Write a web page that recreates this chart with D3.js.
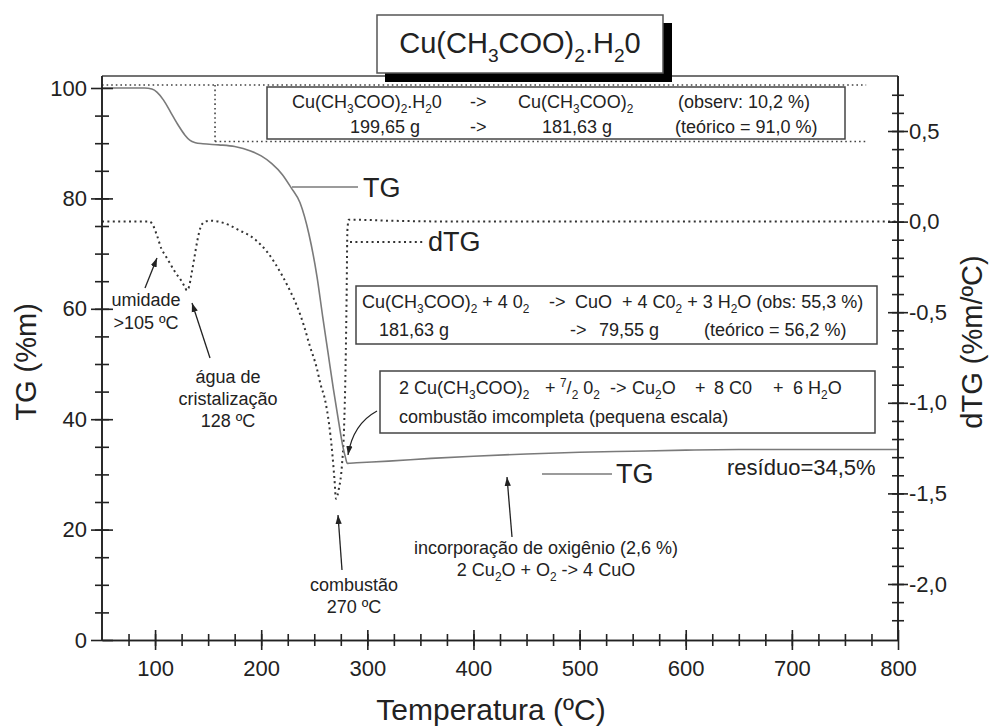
<!DOCTYPE html>
<html>
<head>
<meta charset="utf-8">
<script src="https://cdn.jsdelivr.net/npm/d3@7"></script>
<style>
body { margin: 0; background: #fff; }
text { font-family: "Liberation Sans", Arial, sans-serif; fill: #222; }
</style>
</head>
<body>
<svg id="chart" width="992" height="727"></svg>
<script>
/* TG / dTG do acetato de cobre monohidratado */

// temperatura (ºC) e massa (%) da curva TG
var tgTemp = [50, 90, 97, 102, 108, 115, 122, 128, 133, 138, 145, 160, 175, 190, 200, 210, 220, 228,
              236.6, 245, 252.6, 258, 263, 268, 273, 277, 279.5, 281, 290, 320, 360, 400, 450, 500,
              550, 600, 650, 700, 750, 800];
var tgMass = [100, 100, 99.8, 99.2, 97.8, 95.5, 93.2, 91.5, 90.5, 90.1, 89.9, 89.7, 89.4, 88.6, 87.7, 86.3, 84.3, 82.0,
              79.2, 73.5, 65.8, 58.5, 52, 45.5, 39.5, 35, 33, 32.0, 32.1, 32.4, 32.9, 33.3, 33.7, 34.0,
              34.2, 34.4, 34.5, 34.5, 34.5, 34.5];

// temperatura (ºC) e derivada (%m/ºC) da curva dTG
var dtgTemp = [50, 95, 98, 102, 106, 110, 114, 119, 124, 128, 130, 132, 134, 137, 140, 143, 147, 152, 160,
               170, 180, 190, 200, 206, 213, 220, 227, 234, 240, 246, 252, 256, 260, 264, 267, 269, 270.5,
               273, 276, 278, 279.5, 280.5, 281.2, 282.5, 290, 320, 400, 500, 600, 700, 800];
var dtgRate = [0, 0, -0.02, -0.08, -0.15, -0.19, -0.23, -0.28, -0.32, -0.36, -0.38, -0.36, -0.30, -0.20, -0.10, -0.03, 0, 0.005, 0,
               -0.02, -0.05, -0.08, -0.13, -0.17, -0.23, -0.30, -0.38, -0.47, -0.57, -0.69, -0.80, -0.90, -0.98, -1.12, -1.28, -1.42, -1.53,
               -1.48, -1.35, -1.15, -0.8, -0.4, -0.05, 0.01, 0.01, 0.005, 0, 0, 0, 0, 0];

// eixos
var tempTicks = [100, 200, 300, 400, 500, 600, 700, 800];
var tempMinor = d3.range(75, 800, 25);
var tgTicks = [0, 20, 40, 60, 80, 100];
var tgMinor = d3.range(5, 100, 5);
var dtgTicks = [0.5, 0.0, -0.5, -1.0, -1.5, -2.0];
var dtgMinor = d3.range(-22, 8).map(function(k){ return k / 10; });

// linhas pontilhadas de referência (perda de 10,2 %)
var guideLines = [
    [[50, 100.55], [770, 100.55]],
    [[156.5, 100.55], [156.5, 90.3]],
    [[156.5, 90.3], [770, 90.3]]
];

var svg = d3.select("#chart");
var x = d3.scaleLinear().domain([50, 800]).range([102, 898]);
var y = d3.scaleLinear().domain([0, 100]).range([640, 88]);
var y2 = d3.scaleLinear().domain([-2, 0.5]).range([584, 131]);
var plotTop = 76;

var ink = "#222";
var font = "'Liberation Sans', Arial, sans-serif";
var fmtComma = function(d){
    var s = Math.abs(d).toFixed(1).replace(".", ",");
    return (d < -1e-9 ? "-" : "") + s;
};

// texto com índices: _x = subscrito, ^x = sobrescrito
var rich = function(g, str, px, py, size, anchor){
    var segs = [], cur = {s: "", k: 0};
    for (var i = 0; i < str.length; i++) {
        var c = str[i];
        if ((c == "_" || c == "^") && i + 1 < str.length) {
            if (cur.s) { segs.push(cur); }
            segs.push({s: str[i + 1], k: c == "_" ? 1 : -1});
            cur = {s: "", k: 0};
            i++;
        } else {
            cur.s += c;
        }
    }
    if (cur.s) { segs.push(cur); }
    var t = g.append("text")
        .attr("x", px).attr("y", py)
        .attr("font-size", size)
        .attr("text-anchor", anchor || "start")
        .style("white-space", "pre");
    var off = 0;
    segs.forEach(function(sg){
        var want = sg.k == 1 ? size * 0.3 : (sg.k == -1 ? -size * 0.4 : 0);
        t.append("tspan")
            .attr("dy", want - off)
            .attr("font-size", sg.k ? size * 0.66 : size)
            .text(sg.s);
        off = want;
    });
    return t;
};

var defs = svg.append("defs");
defs.append("marker").attr("id", "ah")
    .attr("viewBox", "0 0 10 10").attr("refX", 10).attr("refY", 5)
    .attr("markerWidth", 9).attr("markerHeight", 9)
    .attr("markerUnits", "userSpaceOnUse").attr("orient", "auto")
    .append("path").attr("d", "M0,1.5L10,5L0,8.5z").attr("fill", ink);

// moldura superior
svg.append("line")
    .attr("x1", x(50)).attr("x2", x(800))
    .attr("y1", plotTop).attr("y2", plotTop)
    .attr("stroke", "#444").attr("stroke-width", 1.5);

// guias pontilhadas
var guide = d3.line().x(function(d){ return x(d[0]); }).y(function(d){ return y(d[1]); });
svg.append("g").selectAll("path").data(guideLines).enter().append("path")
    .attr("d", guide)
    .attr("fill", "none").attr("stroke", "#444")
    .attr("stroke-width", 1.6).attr("stroke-dasharray", "1.6,3");

// curvas
var tgLine = d3.line()
    .x(function(d){ return x(d[0]); })
    .y(function(d){ return y(d[1]); })
    .curve(d3.curveMonotoneX);
var dtgLine = d3.line()
    .x(function(d){ return x(d[0]); })
    .y(function(d){ return y2(d[1]); })
    .curve(d3.curveMonotoneX);

svg.append("path")
    .attr("d", dtgLine(d3.zip(dtgTemp, dtgRate)))
    .attr("fill", "none").attr("stroke", "#333")
    .attr("stroke-width", 2).attr("stroke-dasharray", "2,3.4");
svg.append("path")
    .attr("d", tgLine(d3.zip(tgTemp, tgMass)))
    .attr("fill", "none").attr("stroke", "#7a7a7a")
    .attr("stroke-width", 1.6);

// legendas das curvas
var lg = svg.append("g");
lg.append("line").attr("x1", 292).attr("x2", 358).attr("y1", 187).attr("y2", 187)
    .attr("stroke", "#7a7a7a").attr("stroke-width", 1.4);
lg.append("text").attr("x", 363).attr("y", 197).attr("font-size", 27).text("TG");
lg.append("line").attr("x1", 350).attr("x2", 424).attr("y1", 242).attr("y2", 242)
    .attr("stroke", "#333").attr("stroke-width", 2).attr("stroke-dasharray", "2,3.4");
lg.append("text").attr("x", 428).attr("y", 251).attr("font-size", 27).text("dTG");
lg.append("line").attr("x1", 542).attr("x2", 612).attr("y1", 474).attr("y2", 474)
    .attr("stroke", "#7a7a7a").attr("stroke-width", 1.4);
lg.append("text").attr("x", 616).attr("y", 483).attr("font-size", 27).text("TG");
lg.append("text").attr("x", 727).attr("y", 475).attr("font-size", 22).text("resíduo=34,5%");

// caixas de reações
var boxes = [
    {x: 267, y: 87, w: 578, h: 52},
    {x: 356, y: 286, w: 521, h: 58},
    {x: 380, y: 371, w: 495, h: 62}
];
svg.append("g").selectAll("rect").data(boxes).enter().append("rect")
    .attr("x", function(d){ return d.x; }).attr("y", function(d){ return d.y; })
    .attr("width", function(d){ return d.w; }).attr("height", function(d){ return d.h; })
    .attr("fill", "#fff").attr("stroke", "#444").attr("stroke-width", 1.5);

var tx = svg.append("g");
var fs = 18;
rich(tx, "Cu(CH_3COO)_2.H_20", 292, 108, fs);
rich(tx, "->", 470, 108, fs);
rich(tx, "Cu(CH_3COO)_2", 518, 108, fs);
rich(tx, "(observ: 10,2 %)", 678, 108, fs);
rich(tx, "199,65 g", 350, 133, fs);
rich(tx, "->", 470, 133, fs);
rich(tx, "181,63 g", 542, 133, fs);
rich(tx, "(teórico = 91,0 %)", 675, 133, fs);

rich(tx, "Cu(CH_3COO)_2 + 4 0_2", 362, 308, fs);
rich(tx, "->", 549, 308, fs);
rich(tx, "CuO  + 4 C0_2 + 3 H_2O (obs: 55,3 %)", 575, 308, fs);
rich(tx, "181,63 g", 379, 336, fs);
rich(tx, "->", 570, 336, fs);
rich(tx, "79,55 g", 599, 336, fs);
rich(tx, "(teórico = 56,2 %)", 704, 336, fs);

rich(tx, "2 Cu(CH_3COO)_2", 399, 394, fs);
rich(tx, "+", 545, 394, fs);
rich(tx, "^7/_2 0_2", 560, 394, fs);
rich(tx, "->", 610, 394, fs);
rich(tx, "Cu_2O", 632, 394, fs);
rich(tx, "+", 695, 394, fs);
rich(tx, "8 C0", 714, 394, fs);
rich(tx, "+", 773, 394, fs);
rich(tx, "6 H_2O", 793, 394, fs);
rich(tx, "combustão imcompleta (pequena escala)", 399, 423, fs);

// anotações
rich(tx, "umidade", 146, 306, fs, "middle");
rich(tx, ">105 ºC", 146, 329, fs, "middle");
rich(tx, "água de", 228, 383, fs, "middle");
rich(tx, "cristalização", 228, 405, fs, "middle");
rich(tx, "128 ºC", 228, 427, fs, "middle");
rich(tx, "combustão", 354, 591, fs, "middle");
rich(tx, "270 ºC", 354, 613, fs, "middle");
rich(tx, "incorporação de oxigênio (2,6 %)", 546, 554, fs, "middle");
rich(tx, "2 Cu_2O + O_2 -> 4 CuO", 546, 576, fs, "middle");

var arrows = [
    "M145,288L157,258",
    "M210,358L192,303",
    "M377,411Q353,424,348,455",
    "M342,570L338,515",
    "M512,537L507,477"
];
svg.append("g").selectAll("path").data(arrows).enter().append("path")
    .attr("d", function(d){ return d; })
    .attr("fill", "none").attr("stroke", ink).attr("stroke-width", 1.3)
    .attr("marker-end", "url(#ah)");

// título
var title = svg.append("g");
title.append("rect").attr("x", 385).attr("y", 23).attr("width", 287).attr("height", 59).attr("fill", "#000");
title.append("rect").attr("x", 377).attr("y", 15).attr("width", 286).attr("height", 58)
    .attr("fill", "#fff").attr("stroke", "#555").attr("stroke-width", 1.5);
rich(title, "Cu(CH_3COO)_2.H_20", 520, 53, 29, "middle");

// eixos com marcas cruzadas
var crossTicks = function(g, len, horiz){
    g.selectAll(".tick line")
        .attr(horiz ? "y1" : "x1", -len)
        .attr(horiz ? "y2" : "x2", len)
        .attr("stroke", ink).attr("stroke-width", 1.6);
    g.select(".domain").attr("stroke", ink).attr("stroke-width", 1.6);
};
var styleLabels = function(g){
    g.selectAll(".tick text")
        .style("font-family", font).attr("font-size", 22).attr("fill", ink);
};

var gxMinor = svg.append("g").attr("transform", "translate(0," + y(0) + ")")
    .call(d3.axisBottom(x).tickValues(tempMinor).tickFormat("").tickSizeOuter(0));
crossTicks(gxMinor, 6, true);
var gx = svg.append("g").attr("transform", "translate(0," + y(0) + ")")
    .call(d3.axisBottom(x).tickValues(tempTicks).tickSizeOuter(0).tickPadding(14));
crossTicks(gx, 10, true);
styleLabels(gx);

var gyMinor = svg.append("g").attr("transform", "translate(" + x(50) + ",0)")
    .call(d3.axisLeft(y).tickValues(tgMinor).tickFormat("").tickSizeOuter(0));
crossTicks(gyMinor, 7, false);
var gy = svg.append("g").attr("transform", "translate(" + x(50) + ",0)")
    .call(d3.axisLeft(y).tickValues(tgTicks).tickSizeOuter(0).tickPadding(9));
crossTicks(gy, 11, false);
styleLabels(gy);

var gy2Minor = svg.append("g").attr("transform", "translate(" + x(800) + ",0)")
    .call(d3.axisRight(y2).tickValues(dtgMinor).tickFormat("").tickSizeOuter(0));
crossTicks(gy2Minor, 6, false);
var gy2 = svg.append("g").attr("transform", "translate(" + x(800) + ",0)")
    .call(d3.axisRight(y2).tickValues(dtgTicks).tickFormat(fmtComma).tickSizeOuter(0).tickPadding(5));
crossTicks(gy2, 10, false);
styleLabels(gy2);

[gy, gyMinor, gy2, gy2Minor].forEach(function(g){
    g.select(".domain").attr("d", "M0," + y(0) + "V" + plotTop);
});

// títulos dos eixos
svg.append("text").attr("x", 491).attr("y", 720).attr("font-size", 30)
    .attr("text-anchor", "middle").text("Temperatura (ºC)");
svg.append("text").attr("transform", "translate(36,362) rotate(-90)")
    .attr("font-size", 29).attr("text-anchor", "middle").text("TG (%m)");
svg.append("text").attr("transform", "translate(982,342) rotate(-90)")
    .attr("font-size", 29).attr("text-anchor", "middle").text("dTG (%m/ºC)");
</script>
</body>
</html>
